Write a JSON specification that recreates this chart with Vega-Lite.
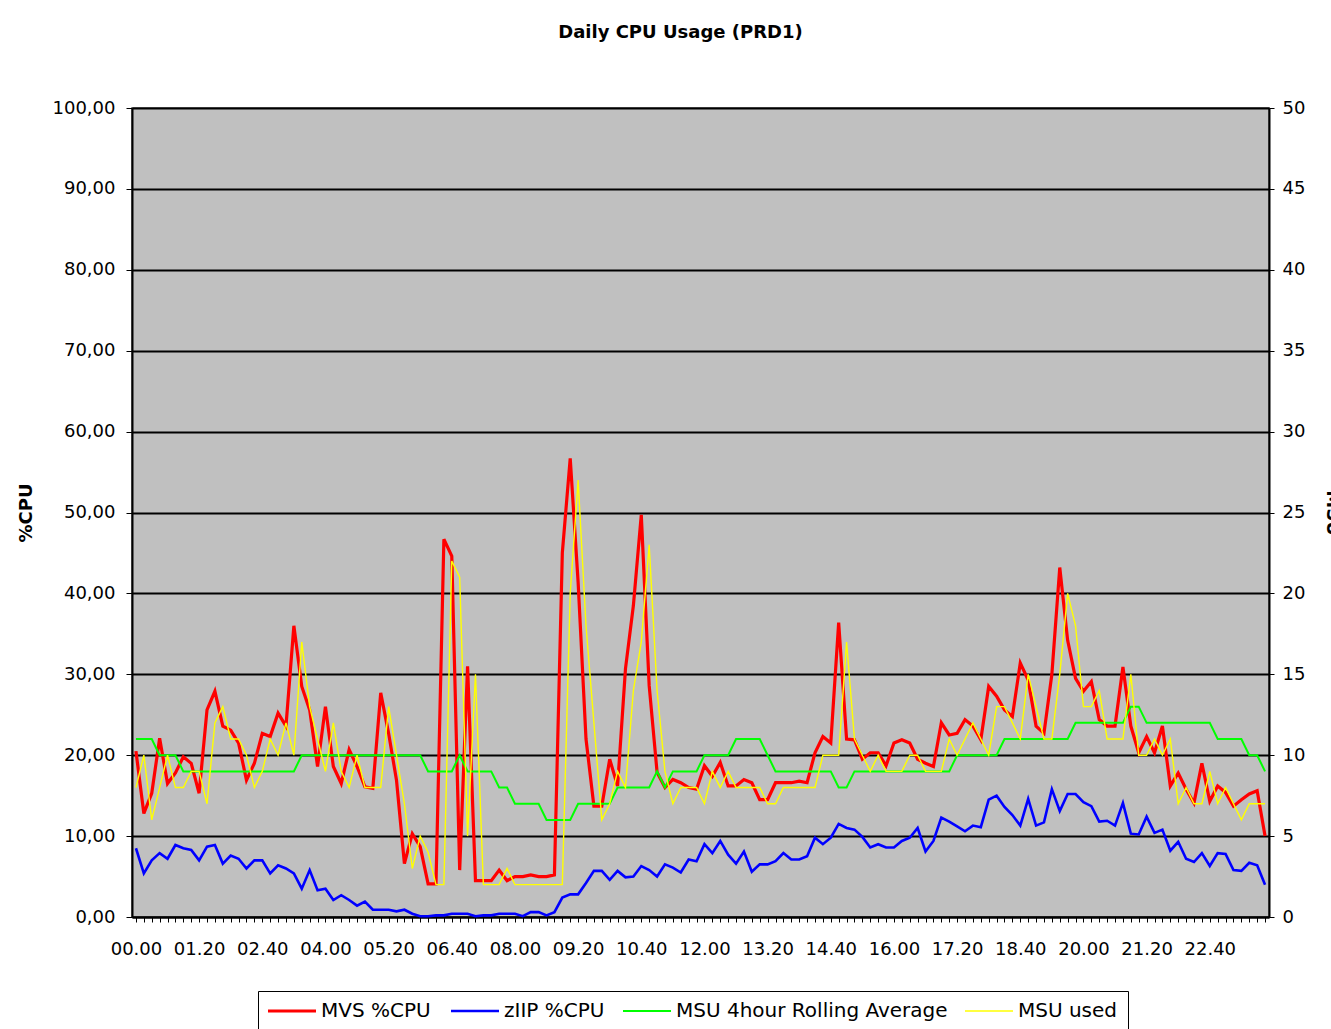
{
  "$schema": "https://vega.github.io/schema/vega-lite/v6.json",
  "width": 1137,
  "height": 809,
  "autosize": {"type": "none"},
  "padding": {"left": 132, "top": 108, "right": 62, "bottom": 112},
  "background": "#FFFFFF",
  "title": {
    "text": "Daily CPU Usage (PRD1)",
    "font": "DejaVu Sans",
    "fontSize": 18,
    "fontWeight": "bold",
    "color": "#000000",
    "anchor": "middle",
    "frame": "group",
    "baseline": "alphabetic",
    "offset": 43,
    "dx": -20
  },
  "config": {
    "view": {"fill": "#C0C0C0", "stroke": "#404040", "strokeWidth": 1.5},
    "legend": {
      "orient": "none",
      "legendX": 126,
      "legendY": 883,
      "direction": "horizontal",
      "symbolType": "M-2,0H7.6",
      "symbolSize": 100,
      "labelFont": "DejaVu Sans",
      "labelFontSize": 20,
      "labelColor": "#000000",
      "labelOffset": 33,
      "labelLimit": 500,
      "columnPadding": 14,
      "padding": 10,
      "strokeColor": "#000000",
      "fillColor": "#FFFFFF"
    }
  },
  "data": {
    "values": [
      {"t":"00.00","mvs":20.5,"ziip":8.5,"avg":11,"used":8},
      {"t":"00.10","mvs":12.8,"ziip":5.4,"avg":11,"used":10},
      {"t":"00.20","mvs":15.3,"ziip":7,"avg":11,"used":6},
      {"t":"00.30","mvs":22.1,"ziip":7.9,"avg":10,"used":8},
      {"t":"00.40","mvs":16.5,"ziip":7.2,"avg":10,"used":10},
      {"t":"00.50","mvs":17.8,"ziip":8.9,"avg":10,"used":8},
      {"t":"01.00","mvs":19.8,"ziip":8.5,"avg":9,"used":8},
      {"t":"01.10","mvs":19,"ziip":8.3,"avg":9,"used":9},
      {"t":"01.20","mvs":15.3,"ziip":7,"avg":9,"used":9},
      {"t":"01.30","mvs":25.6,"ziip":8.7,"avg":9,"used":7},
      {"t":"01.40","mvs":27.9,"ziip":8.9,"avg":9,"used":12},
      {"t":"01.50","mvs":23.6,"ziip":6.6,"avg":9,"used":13},
      {"t":"02.00","mvs":23.1,"ziip":7.6,"avg":9,"used":11},
      {"t":"02.10","mvs":21.5,"ziip":7.2,"avg":9,"used":11},
      {"t":"02.20","mvs":16.9,"ziip":6,"avg":9,"used":10},
      {"t":"02.30","mvs":19,"ziip":7,"avg":9,"used":8},
      {"t":"02.40","mvs":22.7,"ziip":7,"avg":9,"used":9},
      {"t":"02.50","mvs":22.3,"ziip":5.4,"avg":9,"used":11},
      {"t":"03.00","mvs":25.2,"ziip":6.4,"avg":9,"used":10},
      {"t":"03.10","mvs":23.6,"ziip":6,"avg":9,"used":12},
      {"t":"03.20","mvs":36,"ziip":5.4,"avg":9,"used":10},
      {"t":"03.30","mvs":28.5,"ziip":3.5,"avg":10,"used":17},
      {"t":"03.40","mvs":25.6,"ziip":5.8,"avg":10,"used":13},
      {"t":"03.50","mvs":18.6,"ziip":3.3,"avg":10,"used":11},
      {"t":"04.00","mvs":26,"ziip":3.5,"avg":10,"used":9},
      {"t":"04.10","mvs":18.6,"ziip":2.1,"avg":10,"used":12},
      {"t":"04.20","mvs":16.5,"ziip":2.7,"avg":10,"used":9},
      {"t":"04.30","mvs":20.7,"ziip":2.1,"avg":10,"used":8},
      {"t":"04.40","mvs":18.6,"ziip":1.4,"avg":10,"used":10},
      {"t":"04.50","mvs":16.1,"ziip":1.9,"avg":10,"used":8},
      {"t":"05.00","mvs":15.9,"ziip":0.9,"avg":10,"used":8},
      {"t":"05.10","mvs":27.7,"ziip":0.9,"avg":10,"used":8},
      {"t":"05.20","mvs":22.7,"ziip":0.9,"avg":10,"used":13},
      {"t":"05.30","mvs":16.9,"ziip":0.7,"avg":10,"used":10},
      {"t":"05.40","mvs":6.6,"ziip":0.9,"avg":10,"used":7},
      {"t":"05.50","mvs":10.3,"ziip":0.4,"avg":10,"used":3},
      {"t":"06.00","mvs":8.7,"ziip":0.1,"avg":10,"used":5},
      {"t":"06.10","mvs":4.1,"ziip":0.1,"avg":9,"used":4},
      {"t":"06.20","mvs":4.1,"ziip":0.2,"avg":9,"used":2},
      {"t":"06.30","mvs":46.7,"ziip":0.2,"avg":9,"used":2},
      {"t":"06.40","mvs":44.6,"ziip":0.4,"avg":9,"used":22},
      {"t":"06.50","mvs":5.8,"ziip":0.4,"avg":10,"used":21},
      {"t":"07.00","mvs":31,"ziip":0.4,"avg":9,"used":5},
      {"t":"07.10","mvs":4.5,"ziip":0.1,"avg":9,"used":15},
      {"t":"07.20","mvs":4.5,"ziip":0.2,"avg":9,"used":2},
      {"t":"07.30","mvs":4.5,"ziip":0.2,"avg":9,"used":2},
      {"t":"07.40","mvs":5.8,"ziip":0.4,"avg":8,"used":2},
      {"t":"07.50","mvs":4.5,"ziip":0.4,"avg":8,"used":3},
      {"t":"08.00","mvs":5,"ziip":0.4,"avg":7,"used":2},
      {"t":"08.10","mvs":5,"ziip":0.1,"avg":7,"used":2},
      {"t":"08.20","mvs":5.2,"ziip":0.6,"avg":7,"used":2},
      {"t":"08.30","mvs":5,"ziip":0.6,"avg":7,"used":2},
      {"t":"08.40","mvs":5,"ziip":0.2,"avg":6,"used":2},
      {"t":"08.50","mvs":5.2,"ziip":0.6,"avg":6,"used":2},
      {"t":"09.00","mvs":45,"ziip":2.4,"avg":6,"used":2},
      {"t":"09.10","mvs":56.7,"ziip":2.8,"avg":6,"used":20},
      {"t":"09.20","mvs":41.4,"ziip":2.8,"avg":7,"used":27},
      {"t":"09.30","mvs":22,"ziip":4.2,"avg":7,"used":18},
      {"t":"09.40","mvs":13.7,"ziip":5.7,"avg":7,"used":12},
      {"t":"09.50","mvs":13.7,"ziip":5.7,"avg":7,"used":6},
      {"t":"10.00","mvs":19.5,"ziip":4.6,"avg":7,"used":7},
      {"t":"10.10","mvs":16.2,"ziip":5.7,"avg":8,"used":9},
      {"t":"10.20","mvs":30.7,"ziip":4.9,"avg":8,"used":8},
      {"t":"10.30","mvs":38.5,"ziip":5,"avg":8,"used":14},
      {"t":"10.40","mvs":49.7,"ziip":6.3,"avg":8,"used":17},
      {"t":"10.50","mvs":28.6,"ziip":5.8,"avg":8,"used":23},
      {"t":"11.00","mvs":17.9,"ziip":5,"avg":9,"used":14},
      {"t":"11.10","mvs":16,"ziip":6.5,"avg":8,"used":9},
      {"t":"11.20","mvs":17,"ziip":6.1,"avg":9,"used":7},
      {"t":"11.30","mvs":16.6,"ziip":5.5,"avg":9,"used":8},
      {"t":"11.40","mvs":16,"ziip":7.1,"avg":9,"used":8},
      {"t":"11.50","mvs":15.8,"ziip":6.9,"avg":9,"used":8},
      {"t":"12.00","mvs":18.7,"ziip":9,"avg":10,"used":7},
      {"t":"12.10","mvs":17.4,"ziip":7.9,"avg":10,"used":9},
      {"t":"12.20","mvs":19.1,"ziip":9.4,"avg":10,"used":8},
      {"t":"12.30","mvs":16.2,"ziip":7.7,"avg":10,"used":9},
      {"t":"12.40","mvs":16.2,"ziip":6.6,"avg":11,"used":8},
      {"t":"12.50","mvs":17,"ziip":8.1,"avg":11,"used":8},
      {"t":"13.00","mvs":16.6,"ziip":5.6,"avg":11,"used":8},
      {"t":"13.10","mvs":14.5,"ziip":6.5,"avg":11,"used":8},
      {"t":"13.20","mvs":14.5,"ziip":6.5,"avg":10,"used":7},
      {"t":"13.30","mvs":16.6,"ziip":6.9,"avg":9,"used":7},
      {"t":"13.40","mvs":16.6,"ziip":7.9,"avg":9,"used":8},
      {"t":"13.50","mvs":16.6,"ziip":7.1,"avg":9,"used":8},
      {"t":"14.00","mvs":16.8,"ziip":7.1,"avg":9,"used":8},
      {"t":"14.10","mvs":16.6,"ziip":7.5,"avg":9,"used":8},
      {"t":"14.20","mvs":20.3,"ziip":9.8,"avg":9,"used":8},
      {"t":"14.30","mvs":22.3,"ziip":9,"avg":9,"used":10},
      {"t":"14.40","mvs":21.5,"ziip":9.8,"avg":9,"used":10},
      {"t":"14.50","mvs":36.4,"ziip":11.5,"avg":8,"used":10},
      {"t":"15.00","mvs":22,"ziip":11,"avg":8,"used":17},
      {"t":"15.10","mvs":21.9,"ziip":10.8,"avg":9,"used":11},
      {"t":"15.20","mvs":19.5,"ziip":9.9,"avg":9,"used":10},
      {"t":"15.30","mvs":20.3,"ziip":8.6,"avg":9,"used":9},
      {"t":"15.40","mvs":20.3,"ziip":9,"avg":9,"used":10},
      {"t":"15.50","mvs":18.7,"ziip":8.6,"avg":9,"used":9},
      {"t":"16.00","mvs":21.5,"ziip":8.6,"avg":9,"used":9},
      {"t":"16.10","mvs":21.9,"ziip":9.4,"avg":9,"used":9},
      {"t":"16.20","mvs":21.5,"ziip":9.8,"avg":9,"used":10},
      {"t":"16.30","mvs":19.5,"ziip":11,"avg":9,"used":10},
      {"t":"16.40","mvs":19,"ziip":8.1,"avg":9,"used":9},
      {"t":"16.50","mvs":18.6,"ziip":9.4,"avg":9,"used":9},
      {"t":"17.00","mvs":24,"ziip":12.3,"avg":9,"used":9},
      {"t":"17.10","mvs":22.5,"ziip":11.8,"avg":9,"used":11},
      {"t":"17.20","mvs":22.7,"ziip":11.2,"avg":10,"used":10},
      {"t":"17.30","mvs":24.4,"ziip":10.6,"avg":10,"used":11},
      {"t":"17.40","mvs":23.6,"ziip":11.3,"avg":10,"used":12},
      {"t":"17.50","mvs":21.9,"ziip":11.1,"avg":10,"used":11},
      {"t":"18.00","mvs":28.5,"ziip":14.5,"avg":10,"used":10},
      {"t":"18.10","mvs":27.3,"ziip":15,"avg":10,"used":13},
      {"t":"18.20","mvs":25.6,"ziip":13.6,"avg":11,"used":13},
      {"t":"18.30","mvs":24.8,"ziip":12.6,"avg":11,"used":12},
      {"t":"18.40","mvs":31.4,"ziip":11.3,"avg":11,"used":11},
      {"t":"18.50","mvs":29.3,"ziip":14.6,"avg":11,"used":15},
      {"t":"19.00","mvs":23.6,"ziip":11.3,"avg":11,"used":13},
      {"t":"19.10","mvs":22.7,"ziip":11.7,"avg":11,"used":11},
      {"t":"19.20","mvs":30,"ziip":15.8,"avg":11,"used":11},
      {"t":"19.30","mvs":43.2,"ziip":13.1,"avg":11,"used":15},
      {"t":"19.40","mvs":34.2,"ziip":15.2,"avg":11,"used":20},
      {"t":"19.50","mvs":29.5,"ziip":15.2,"avg":12,"used":18},
      {"t":"20.00","mvs":27.9,"ziip":14.2,"avg":12,"used":13},
      {"t":"20.10","mvs":29.1,"ziip":13.7,"avg":12,"used":13},
      {"t":"20.20","mvs":24.4,"ziip":11.8,"avg":12,"used":14},
      {"t":"20.30","mvs":23.6,"ziip":11.9,"avg":12,"used":11},
      {"t":"20.40","mvs":23.6,"ziip":11.3,"avg":12,"used":11},
      {"t":"20.50","mvs":30.9,"ziip":14.1,"avg":12,"used":11},
      {"t":"21.00","mvs":23.6,"ziip":10.3,"avg":13,"used":15},
      {"t":"21.10","mvs":20.3,"ziip":10.2,"avg":13,"used":10},
      {"t":"21.20","mvs":22.3,"ziip":12.4,"avg":12,"used":10},
      {"t":"21.30","mvs":20.3,"ziip":10.4,"avg":12,"used":11},
      {"t":"21.40","mvs":23.6,"ziip":10.8,"avg":12,"used":10},
      {"t":"21.50","mvs":16.2,"ziip":8.2,"avg":12,"used":11},
      {"t":"22.00","mvs":17.8,"ziip":9.3,"avg":12,"used":7},
      {"t":"22.10","mvs":15.8,"ziip":7.2,"avg":12,"used":8},
      {"t":"22.20","mvs":14.1,"ziip":6.8,"avg":12,"used":7},
      {"t":"22.30","mvs":19,"ziip":7.9,"avg":12,"used":7},
      {"t":"22.40","mvs":14.3,"ziip":6.3,"avg":12,"used":9},
      {"t":"22.50","mvs":16.2,"ziip":7.9,"avg":11,"used":7},
      {"t":"23.00","mvs":15.4,"ziip":7.8,"avg":11,"used":8},
      {"t":"23.10","mvs":13.7,"ziip":5.8,"avg":11,"used":7},
      {"t":"23.20","mvs":14.5,"ziip":5.7,"avg":11,"used":6},
      {"t":"23.30","mvs":15.2,"ziip":6.7,"avg":10,"used":7},
      {"t":"23.40","mvs":15.6,"ziip":6.4,"avg":10,"used":7},
      {"t":"23.50","mvs":10,"ziip":4,"avg":9,"used":7}
    ]
  },
  "encoding": {
    "x": {
      "field": "t",
      "type": "ordinal",
      "scale": {"type": "point", "padding": 0.5},
      "axis": {
        "title": null,
        "labelAngle": 0,
        "labelExpr": "(parseInt(substring(datum.value,0,2))*60 + parseInt(substring(datum.value,3,5))) % 80 == 0 ? datum.value : ''",
        "labelOverlap": false,
        "labelFont": "DejaVu Sans",
        "labelFontSize": 18,
        "labelColor": "#000000",
        "labelPadding": 18,
        "tickSize": 5,
        "tickColor": "#000000",
        "tickWidth": 1,
        "domainColor": "#000000",
        "domainWidth": 2,
        "grid": false
      }
    }
  },
  "layer": [
    {
      "transform": [{"fold": ["mvs", "ziip"], "as": ["key", "cpu"]}],
      "mark": {"type": "line", "interpolate": "linear"},
      "encoding": {
        "y": {
          "field": "cpu",
          "type": "quantitative",
          "scale": {"domain": [0, 100], "nice": false, "zero": true},
          "axis": {
            "title": "%CPU",
            "titleFont": "DejaVu Sans",
            "titleFontSize": 18,
            "titleFontWeight": "bold",
            "titleColor": "#000000",
            "titlePadding": 17,
            "values": [0, 10, 20, 30, 40, 50, 60, 70, 80, 90, 100],
            "labelExpr": "replace(format(datum.value, '.2f'), '.', ',')",
            "labelFont": "DejaVu Sans",
            "labelFontSize": 18,
            "labelColor": "#000000",
            "labelPadding": 11,
            "tickSize": 6,
            "tickColor": "#000000",
            "domainColor": "#000000",
            "domainWidth": 2,
            "grid": true,
            "gridColor": "#000000",
            "gridWidth": 2,
            "gridOpacity": 1
          }
        },
        "color": {
          "field": "key",
          "type": "nominal",
          "scale": {"domain": ["mvs", "ziip", "avg", "used"], "range": ["#FF0000", "#0000FF", "#00FF00", "#FFFF00"]},
          "legend": {
            "title": null,
            "labelExpr": "datum.label == 'mvs' ? 'MVS %CPU' : datum.label == 'ziip' ? 'zIIP %CPU' : datum.label == 'avg' ? 'MSU 4hour Rolling Average' : 'MSU used'"
          }
        },
        "strokeWidth": {
          "field": "key",
          "type": "nominal",
          "scale": {"domain": ["mvs", "ziip", "avg", "used"], "range": [3.2, 1.4, 3.2, 1.4]},
          "legend": {
            "title": null,
            "labelExpr": "datum.label == 'mvs' ? 'MVS %CPU' : datum.label == 'ziip' ? 'zIIP %CPU' : datum.label == 'avg' ? 'MSU 4hour Rolling Average' : 'MSU used'"
          }
        }
      }
    },
    {
      "transform": [{"fold": ["avg", "used"], "as": ["key", "msu"]}],
      "mark": {"type": "line", "interpolate": "linear"},
      "encoding": {
        "y": {
          "field": "msu",
          "type": "quantitative",
          "scale": {"domain": [0, 50], "nice": false, "zero": true},
          "axis": {
            "orient": "right",
            "title": "MSU",
            "titleFont": "DejaVu Sans",
            "titleFontSize": 18,
            "titleFontWeight": "bold",
            "titleColor": "#000000",
            "titlePadding": 18,
            "values": [0, 5, 10, 15, 20, 25, 30, 35, 40, 45, 50],
            "labelFont": "DejaVu Sans",
            "labelFontSize": 18,
            "labelColor": "#000000",
            "labelPadding": 8,
            "tickSize": 5,
            "tickColor": "#000000",
            "domainColor": "#000000",
            "domainWidth": 2,
            "grid": false
          }
        },
        "color": {
          "field": "key",
          "type": "nominal",
          "scale": {"domain": ["mvs", "ziip", "avg", "used"], "range": ["#FF0000", "#0000FF", "#00FF00", "#FFFF00"]},
          "legend": {
            "title": null,
            "labelExpr": "datum.label == 'mvs' ? 'MVS %CPU' : datum.label == 'ziip' ? 'zIIP %CPU' : datum.label == 'avg' ? 'MSU 4hour Rolling Average' : 'MSU used'"
          }
        },
        "strokeWidth": {
          "field": "key",
          "type": "nominal",
          "scale": {"domain": ["mvs", "ziip", "avg", "used"], "range": [3.2, 1.4, 3.2, 1.4]},
          "legend": {
            "title": null,
            "labelExpr": "datum.label == 'mvs' ? 'MVS %CPU' : datum.label == 'ziip' ? 'zIIP %CPU' : datum.label == 'avg' ? 'MSU 4hour Rolling Average' : 'MSU used'"
          }
        }
      }
    }
  ],
  "resolve": {"scale": {"y": "independent"}}
}
